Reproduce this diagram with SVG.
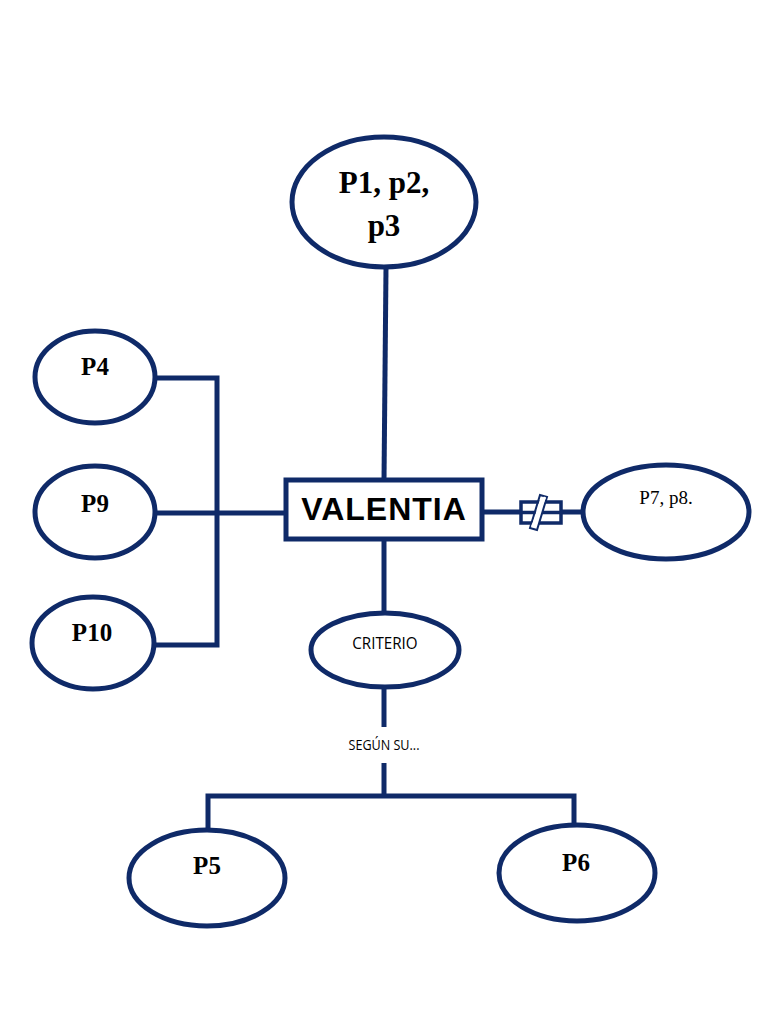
<svg xmlns="http://www.w3.org/2000/svg" width="768" height="1024" viewBox="0 0 768 1024">
<style>
.n{fill:#fff;stroke:#0f2a68;stroke-width:5}
.c{fill:none;stroke:#0f2a68;stroke-width:5}
.s{font-family:"Liberation Serif",serif;font-weight:bold;fill:#000;text-anchor:middle}
.k{font-family:"Open Sans","Liberation Sans",sans-serif;fill:#000;text-anchor:middle}
</style>
<rect width="768" height="1024" fill="#fff"/>
<g id="connectors">
<path class="c" d="M386 268 L384 480"/>
<path class="c" d="M155 378 H217 V645 H153"/>
<path class="c" d="M155 513 H286"/>
<path class="c" d="M482 512 H585"/>
<path class="c" d="M384 540 V614"/>
<path class="c" d="M384 688 V727"/>
<path class="c" d="M384 763 V796 M208 830 V796 H574 V826"/>
<g id="not-equal">
<rect x="521" y="502" width="40" height="21" fill="#fff" stroke="#0f2a68" stroke-width="3.5"/>
<path d="M521 512.5 H561" stroke="#0f2a68" stroke-width="3.5"/>
<path d="M534 529 L544 496" stroke="#fff" stroke-width="6"/>
<path d="M530 528 L537 530 L547 497 L540 495 Z" fill="none" stroke="#0f2a68" stroke-width="2"/>
<path d="M532 527 L545 497" stroke="#fff" stroke-width="2.5"/>
</g>
</g>
<g id="n-p123">
<ellipse class="n" cx="384" cy="202" rx="92" ry="65"/>
<text class="s" x="384" y="193" font-size="31">P1, p2,</text>
<text class="s" x="384" y="236" font-size="31">p3</text>
</g>
<g id="n-valentia">
<rect class="n" x="286" y="480" width="196" height="59"/>
<text x="384" y="520" font-family="Liberation Sans,Arial,sans-serif" font-weight="bold" font-size="32" letter-spacing="1" text-anchor="middle" fill="#000">VALENTIA</text>
</g>
<g id="n-p4">
<ellipse class="n" cx="95" cy="377" rx="60" ry="46"/>
<text class="s" x="95" y="375" font-size="25">P4</text>
</g>
<g id="n-p9">
<ellipse class="n" cx="95" cy="512" rx="60" ry="46"/>
<text class="s" x="95" y="512" font-size="25">P9</text>
</g>
<g id="n-p10">
<ellipse class="n" cx="93" cy="643" rx="61" ry="46"/>
<text class="s" x="92" y="641" font-size="25">P10</text>
</g>
<g id="n-p78">
<ellipse class="n" cx="666" cy="512" rx="83" ry="47"/>
<text x="666" y="504" font-family="Liberation Serif,serif" font-size="19" text-anchor="middle" fill="#000">P7, p8.</text>
</g>
<g id="n-criterio">
<ellipse class="n" cx="385" cy="650" rx="74" ry="37"/>
<text class="k" x="385" y="649" font-size="16.5" transform="translate(385 0) scale(0.92 1) translate(-385 0)">CRITERIO</text>
</g>
<g id="l-segun">
<text class="k" x="384" y="750" font-size="14" transform="translate(384 0) scale(0.9 1) translate(-384 0)">SEGÚN SU...</text>
</g>
<g id="n-p5">
<ellipse class="n" cx="207" cy="878" rx="78" ry="48"/>
<text class="s" x="207" y="874" font-size="25">P5</text>
</g>
<g id="n-p6">
<ellipse class="n" cx="577" cy="873" rx="78" ry="48"/>
<text class="s" x="576" y="871" font-size="25">P6</text>
</g>
</svg>
